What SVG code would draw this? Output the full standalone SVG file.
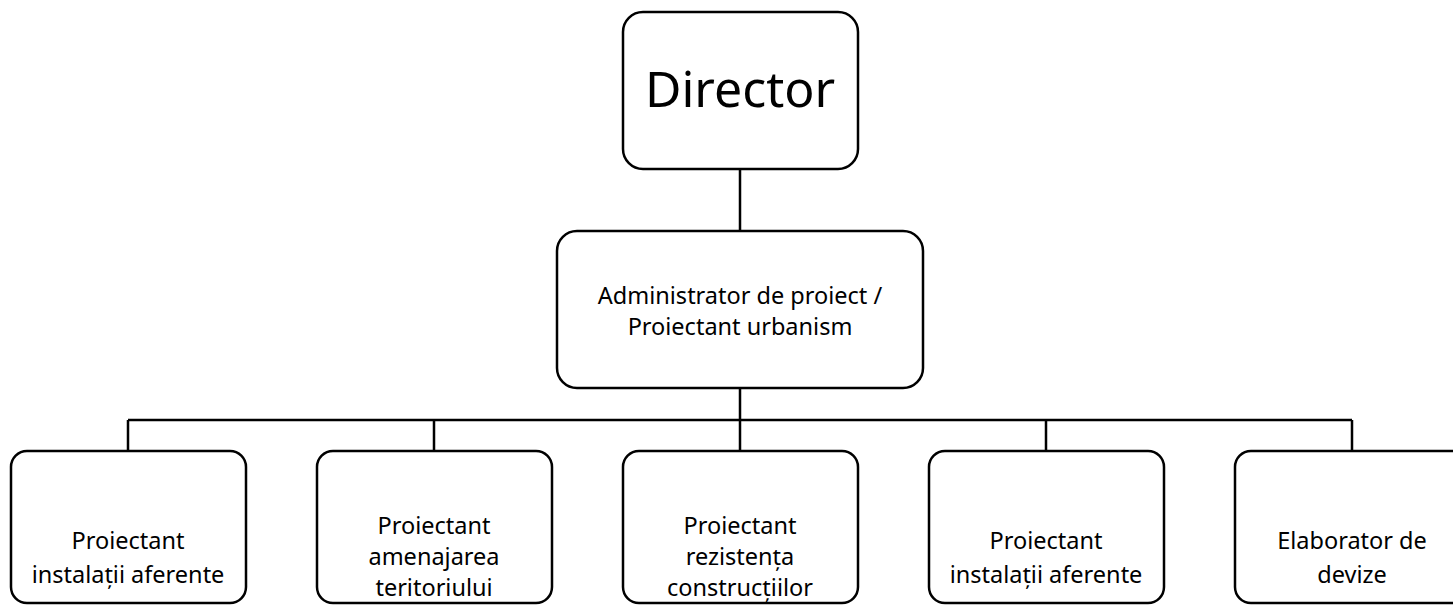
<svg xmlns="http://www.w3.org/2000/svg" width="1453" height="605" viewBox="0 0 1453 605">
<style>
.box{fill:#fff;stroke:#000;stroke-width:2.5}
.con{fill:none;stroke:#000;stroke-width:2.5}
text{font-family:"Noto Sans","Open Sans",sans-serif;fill:#000;text-anchor:middle}
.s{font-size:23.5px}
.big{font-size:50px}
</style>
<rect width="1453" height="605" fill="#fff"/>
<g id="connectors">
<path class="con" d="M740 169V231M740 388V451M128 420H1352M128 420V451M434 420V451M1046 420V451M1352 420V451"/>
</g>
<g id="director">
<rect class="box" x="623" y="12" width="235" height="157" rx="20"/>
<text class="big" x="740" y="107">Director</text>
</g>
<g id="admin">
<rect class="box" x="557" y="231" width="366" height="157" rx="20"/>
<text class="s" x="740" y="304">Administrator de proiect /</text>
<text class="s" x="740" y="335">Proiectant urbanism</text>
</g>
<g id="n1">
<rect class="box" x="11" y="451" width="235" height="152" rx="16"/>
<text class="s" x="128" y="549">Proiectant</text>
<text class="s" x="128" y="583">instalații aferente</text>
</g>
<g id="n2">
<rect class="box" x="317" y="451" width="235" height="152" rx="16"/>
<text class="s" x="434" y="534">Proiectant</text>
<text class="s" x="434" y="565">amenajarea</text>
<text class="s" x="434" y="596">teritoriului</text>
</g>
<g id="n3">
<rect class="box" x="623" y="451" width="235" height="152" rx="16"/>
<text class="s" x="740" y="534">Proiectant</text>
<text class="s" x="740" y="565">rezistența</text>
<text class="s" x="740" y="596">construcțiilor</text>
</g>
<g id="n4">
<rect class="box" x="929" y="451" width="235" height="152" rx="16"/>
<text class="s" x="1046" y="549">Proiectant</text>
<text class="s" x="1046" y="583">instalații aferente</text>
</g>
<g id="n5">
<rect class="box" x="1235" y="451" width="235" height="152" rx="16"/>
<text class="s" x="1352" y="549">Elaborator de</text>
<text class="s" x="1352" y="583">devize</text>
</g>
</svg>
